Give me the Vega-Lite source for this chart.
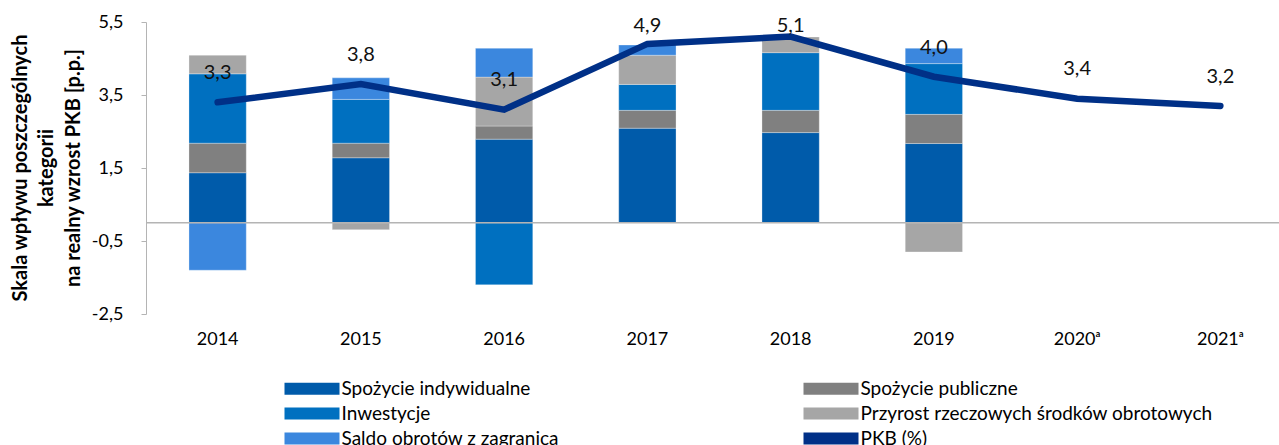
{
  "$schema": "https://vega.github.io/schema/vega-lite/v6.json",
  "autosize": {"type": "none"},
  "padding": {"left": 146, "top": 22, "right": 0, "bottom": 131},
  "width": 1133,
  "height": 292,
  "background": "white",
  "config": {
    "view": {"stroke": null},
    "font": "Lato",
    "axis": {"labelFont": "Lato", "titleFont": "Lato"},
    "legend": {"labelFont": "Lato"}
  },
  "datasets": {
    "bars": [
      {"year": "2014", "series": "Spożycie indywidualne", "ord": 1, "value": 1.37},
      {"year": "2014", "series": "Spożycie publiczne", "ord": 2, "value": 0.81},
      {"year": "2014", "series": "Inwestycje", "ord": 3, "value": 1.90},
      {"year": "2014", "series": "Przyrost rzeczowych środków obrotowych", "ord": 4, "value": 0.51},
      {"year": "2014", "series": "Saldo obrotów z zagranicą", "ord": 5, "value": -1.30},
      {"year": "2015", "series": "Spożycie indywidualne", "ord": 1, "value": 1.78},
      {"year": "2015", "series": "Spożycie publiczne", "ord": 2, "value": 0.40},
      {"year": "2015", "series": "Inwestycje", "ord": 3, "value": 1.20},
      {"year": "2015", "series": "Przyrost rzeczowych środków obrotowych", "ord": 4, "value": -0.19},
      {"year": "2015", "series": "Saldo obrotów z zagranicą", "ord": 5, "value": 0.59},
      {"year": "2016", "series": "Spożycie indywidualne", "ord": 1, "value": 2.29},
      {"year": "2016", "series": "Spożycie publiczne", "ord": 2, "value": 0.36},
      {"year": "2016", "series": "Inwestycje", "ord": 3, "value": -1.70},
      {"year": "2016", "series": "Przyrost rzeczowych środków obrotowych", "ord": 4, "value": 1.34},
      {"year": "2016", "series": "Saldo obrotów z zagranicą", "ord": 5, "value": 0.79},
      {"year": "2017", "series": "Spożycie indywidualne", "ord": 1, "value": 2.59},
      {"year": "2017", "series": "Spożycie publiczne", "ord": 2, "value": 0.49},
      {"year": "2017", "series": "Inwestycje", "ord": 3, "value": 0.71},
      {"year": "2017", "series": "Przyrost rzeczowych środków obrotowych", "ord": 4, "value": 0.80},
      {"year": "2017", "series": "Saldo obrotów z zagranicą", "ord": 5, "value": 0.28},
      {"year": "2018", "series": "Spożycie indywidualne", "ord": 1, "value": 2.47},
      {"year": "2018", "series": "Spożycie publiczne", "ord": 2, "value": 0.61},
      {"year": "2018", "series": "Inwestycje", "ord": 3, "value": 1.58},
      {"year": "2018", "series": "Przyrost rzeczowych środków obrotowych", "ord": 4, "value": 0.43},
      {"year": "2019", "series": "Spożycie indywidualne", "ord": 1, "value": 2.17},
      {"year": "2019", "series": "Spożycie publiczne", "ord": 2, "value": 0.80},
      {"year": "2019", "series": "Inwestycje", "ord": 3, "value": 1.39},
      {"year": "2019", "series": "Przyrost rzeczowych środków obrotowych", "ord": 4, "value": -0.80},
      {"year": "2019", "series": "Saldo obrotów z zagranicą", "ord": 5, "value": 0.42}
    ],
    "gdp": [
      {"year": "2014", "pkb": 3.3, "label": "3,3"},
      {"year": "2015", "pkb": 3.8, "label": "3,8"},
      {"year": "2016", "pkb": 3.1, "label": "3,1"},
      {"year": "2017", "pkb": 4.9, "label": "4,9"},
      {"year": "2018", "pkb": 5.1, "label": "5,1"},
      {"year": "2019", "pkb": 4.0, "label": "4,0"},
      {"year": "2020ᵃ", "pkb": 3.4, "label": "3,4"},
      {"year": "2021ᵃ", "pkb": 3.2, "label": "3,2"}
    ]
  },
  "layer": [
    {
      "data": {"name": "bars"},
      "mark": {"type": "bar", "stroke": "#ffffff", "strokeWidth": 0.6, "strokeOpacity": 0.5},
      "encoding": {
        "x": {
          "field": "year", "type": "nominal",
          "scale": {"domain": ["2014", "2015", "2016", "2017", "2018", "2019", "2020ᵃ", "2021ᵃ"], "range": [0, 1146], "paddingInner": 0.6, "paddingOuter": 0.3},
          "axis": {"title": null, "domain": false, "ticks": false, "labelAngle": 0, "labelFontSize": 18, "labelColor": "#000000", "labelPadding": 16}
        },
        "y": {
          "field": "value", "type": "quantitative", "stack": "zero",
          "scale": {"domain": [-2.5, 5.5], "nice": false, "zero": false},
          "axis": {
            "values": [-2.5, -0.5, 1.5, 3.5, 5.5],
            "labelExpr": "replace(replace(format(datum.value, '.1f'), '.', ','), '−', '-')",
            "grid": false, "domainColor": "#B4B4B4", "tickColor": "#B4B4B4", "tickSize": 5,
            "labelPadding": 18, "labelFontSize": 18, "labelColor": "#000000",
            "title": ["Skala wpływu poszczególnych", "kategorii", "na realny wzrost PKB [p.p.]"],
            "titleFontSize": 20, "titleFontWeight": "bold", "titleColor": "#000000",
            "titleAngle": -90, "titleX": -126, "titleY": 145.5, "titleAlign": "center", "titleBaseline": "middle", "titleLineHeight": 26.5
          }
        },
        "color": {
          "field": "series", "type": "nominal",
          "scale": {
            "domain": ["Spożycie indywidualne", "Spożycie publiczne", "Inwestycje", "Przyrost rzeczowych środków obrotowych", "Saldo obrotów z zagranicą", "PKB (%)"],
            "range": ["#005BAA", "#808080", "#0070C0", "#A6A6A6", "#3B87DE", "#003087"]
          },
          "legend": {
            "title": null, "orient": "none", "legendX": 134, "legendY": 357,
            "direction": "horizontal",
            "columns": 2, "columnPadding": 240, "rowPadding": 5, "padding": 0,
            "labelFontSize": 19, "labelColor": "#000000", "labelOffset": 42.5, "labelLimit": 500,
            "symbolSize": 100, "symbolStrokeWidth": 0, "symbolType": "M-1,-1.2H10V1.2H-1Z",
            "encode": {
              "symbols": {
                "update": {
                  "shape": {"signal": "datum.value === 'PKB (%)' ? 'M-0.3,-0.7H9.3A0.7,0.7 0 0 1 9.3,0.7H-0.3A0.7,0.7 0 0 1 -0.3,-0.7Z' : 'M-1,-1.2H10V1.2H-1Z'"},
                  "fill": {"scale": "color", "field": "value"},
                  "strokeWidth": {"value": 0},
                  "opacity": {"value": 1}
                }
              }
            }
          }
        },
        "order": {"field": "ord", "type": "quantitative"}
      }
    },
    {
      "data": {"values": [{"z": 0}]},
      "mark": {"type": "rule", "color": "#B4B4B4", "strokeWidth": 1.5},
      "encoding": {"y": {"field": "z", "type": "quantitative"}}
    },
    {
      "data": {"name": "gdp"},
      "mark": {"type": "line", "strokeWidth": 6.5, "strokeCap": "round"},
      "encoding": {
        "x": {"field": "year", "type": "nominal"},
        "y": {"field": "pkb", "type": "quantitative"},
        "color": {"datum": "PKB (%)"}
      }
    },
    {
      "data": {"name": "gdp"},
      "transform": [{"calculate": "min(datum.pkb + 0.8, 5.4)", "as": "labelAt"}],
      "mark": {"type": "text", "fontSize": 20, "color": "#111111"},
      "encoding": {
        "x": {"field": "year", "type": "nominal"},
        "y": {"field": "labelAt", "type": "quantitative"},
        "text": {"field": "label"}
      }
    }
  ]
}
